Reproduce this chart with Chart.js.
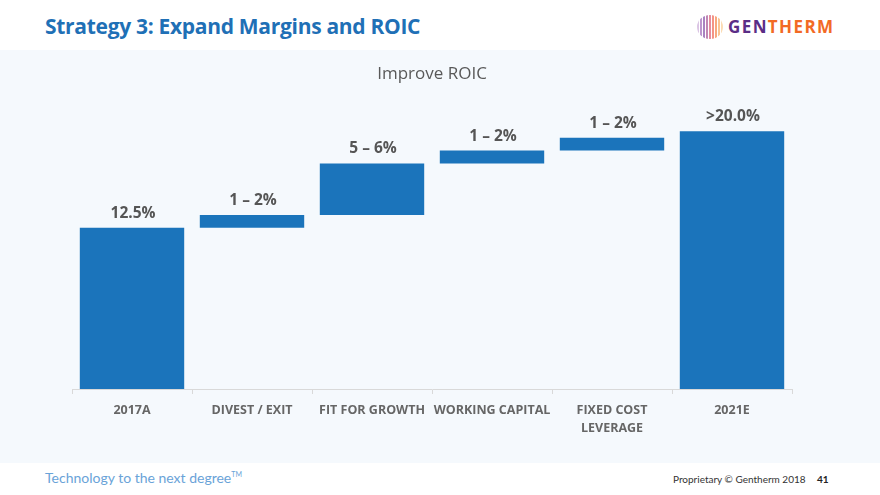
<!DOCTYPE html>
<html>
<head>
<meta charset="utf-8">
<script src="https://cdn.jsdelivr.net/npm/chart.js@4.4.0/dist/chart.umd.min.js"></script>
<style>
  html, body { margin: 0; padding: 0; background: #ffffff; }
  body { width: 880px; height: 495px; position: relative; overflow: hidden; font-family: "Open Sans", "Noto Sans", sans-serif; }
  #title { position: absolute; left: 45px; top: 12px; font-size: 21px; font-weight: 700; color: #1f70b6; letter-spacing: -0.3px; white-space: nowrap; }
  #panel { position: absolute; left: 0; top: 50px; width: 880px; height: 413px; background: #f5f9fd; }
  #logo { position: absolute; left: 696px; top: 14px; }
  #logotext { position: absolute; left: 728px; top: 15px; font-family: "Open Sans", sans-serif; font-weight: 700; font-size: 17px; letter-spacing: 1.4px; white-space: nowrap; }
  #tag { position: absolute; left: 45px; top: 469px; font-size: 14px; color: #6aa3d8; font-family: Lato, sans-serif; font-weight: 400; white-space: nowrap; }
  #prop { position: absolute; left: 673px; top: 473px; font-size: 10px; color: #333; font-family: Lato, sans-serif; white-space: nowrap; }
  #page { position: absolute; left: 817px; top: 473px; font-size: 10px; font-weight: 700; color: #222; font-family: Lato, sans-serif; }
</style>
</head>
<body>
<div id="title">Strategy 3: Expand Margins and ROIC</div>
<svg id="logo" width="28" height="26" viewBox="0 0 28 26">
  <defs>
    <clipPath id="c"><ellipse cx="14" cy="13" rx="13" ry="12"/></clipPath>
  </defs>
  <g clip-path="url(#c)" stroke-width="1.3" fill="none">
    <line x1="2" y1="0" x2="2" y2="26" stroke="#c7a6d6"/>
    <line x1="5" y1="0" x2="5" y2="26" stroke="#9a5fb4"/>
    <line x1="8" y1="0" x2="8" y2="26" stroke="#7b3fa0"/>
    <line x1="11" y1="0" x2="11" y2="26" stroke="#a0468c"/>
    <line x1="14" y1="0" x2="14" y2="26" stroke="#d8506a"/>
    <line x1="17" y1="0" x2="17" y2="26" stroke="#ee5a44"/>
    <line x1="20" y1="0" x2="20" y2="26" stroke="#f47a3a"/>
    <line x1="23" y1="0" x2="23" y2="26" stroke="#f7a55a"/>
    <line x1="26" y1="0" x2="26" y2="26" stroke="#f9c98d"/>
  </g>
</svg>
<div id="logotext"><span style="color:#5a2d86">GEN</span><span style="color:#f26a24">THERM</span></div>
<div id="panel"><canvas id="chart" width="880" height="413"></canvas></div>
<div id="tag">Technology to the next degree<sup style="font-size:7px">TM</sup></div>
<div id="prop">Proprietary © Gentherm 2018</div>
<div id="page">41</div>
<script>
const categories = ['2017A', 'DIVEST / EXIT', 'FIT FOR GROWTH', 'WORKING CAPITAL', ['FIXED COST', 'LEVERAGE'], '2021E'];
const barStart = [0, 12.5, 13.5, 17.5, 18.5, 0];
const barEnd = [12.5, 13.5, 17.5, 18.5, 19.5, 20.0];
const valueLabels = ['12.5%', '1 – 2%', '5 – 6%', '1 – 2%', '1 – 2%', '>20.0%'];

const floatingData = barStart.map((s, i) => [s, barEnd[i]]);

const labelPlugin = {
  id: 'valueLabels',
  afterDatasetsDraw(chart) {
    const ctx = chart.ctx;
    const meta = chart.getDatasetMeta(0);
    ctx.save();
    ctx.font = '700 15.5px "Open Sans", sans-serif';
    ctx.fillStyle = '#555555';
    ctx.textAlign = 'center';
    ctx.textBaseline = 'alphabetic';
    meta.data.forEach((el, i) => {
      const top = Math.min(el.y, el.base);
      ctx.fillText(valueLabels[i], el.x + 1, top - 10);
    });
    ctx.restore();
  }
};

new Chart(document.getElementById('chart'), {
  type: 'bar',
  data: {
    labels: categories,
    datasets: [{
      data: floatingData,
      backgroundColor: '#1b74bb',
      borderWidth: 0,
      borderSkipped: false,
      barPercentage: 0.87,
      categoryPercentage: 1.0
    }]
  },
  options: {
    responsive: false,
    animation: false,
    devicePixelRatio: 1,
    layout: { padding: { left: 72, right: 88, top: 0, bottom: 0 } },
    plugins: {
      legend: { display: false },
      tooltip: { enabled: false },
      title: {
        display: true,
        text: 'Improve ROIC',
        color: '#595959',
        font: { family: '"Open Sans", sans-serif', size: 17, weight: '400' },
        padding: { top: 14, bottom: 21 }
      }
    },
    scales: {
      x: {
        offset: true,
        grid: { offset: true, drawOnChartArea: false, drawTicks: true, tickLength: 5, color: '#d9d9d9' },
        border: { display: true, color: '#d9d9d9' },
        ticks: {
          color: '#666666',
          padding: 7,
          maxRotation: 0,
          autoSkip: false,
          font: { family: '"Open Sans", sans-serif', size: 12.5, weight: '700', lineHeight: 1.45 }
        },
        afterFit(scale) { scale.height = 74; }
      },
      y: {
        display: false,
        min: 0,
        max: 22
      }
    }
  },
  plugins: [labelPlugin]
});
</script>
</body>
</html>
